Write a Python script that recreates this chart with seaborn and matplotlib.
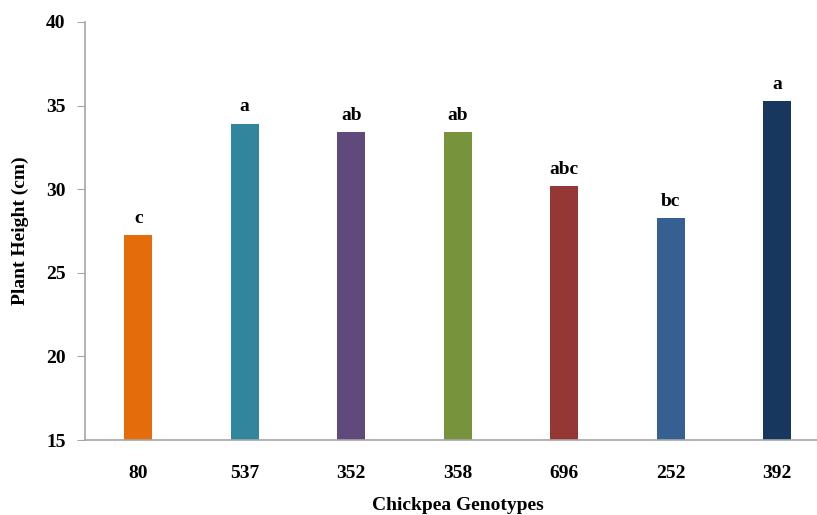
import matplotlib
matplotlib.use("Agg")
import pandas as pd
import matplotlib.pyplot as plt
import seaborn as sns

# data
genotypes = ['80', '537', '352', '358', '696', '252', '392']
height = [27.25, 33.92, 33.42, 33.42, 30.2, 28.27, 35.28]
letters = ['c', 'a', 'ab', 'ab', 'abc', 'bc', 'a']
colors = ['#E46C0A', '#31859C', '#604A7B', '#77933C', '#953735', '#366092', '#17375E']

df = pd.DataFrame({'Genotype': genotypes, 'Height': height})

sns.set_style('white')
plt.rcParams['font.family'] = ['Liberation Serif', 'DejaVu Serif']
plt.rcParams['font.weight'] = 'bold'
plt.rcParams['text.color'] = 'black'
plt.rcParams['axes.labelcolor'] = 'black'
plt.rcParams['xtick.color'] = 'black'
plt.rcParams['ytick.color'] = 'black'

fig = plt.figure(figsize=(8.17, 5.15), dpi=100)
ax = fig.add_axes([0.104, 0.1456, 0.9125, 0.8117])

sns.barplot(data=df, x='Genotype', y='Height', hue='Genotype', palette=colors,
            saturation=1, legend=False, width=0.26, ax=ax, edgecolor='none')

ax.set_ylim(15, 40)
ax.set_yticks(range(15, 41, 5))
for i, (v, t) in enumerate(zip(height, letters)):
    ax.annotate(t, (i, v), xytext=(0, 6), textcoords='offset points',
                ha='center', va='bottom', fontsize=14, fontweight='bold')

ax.set_xlabel('Chickpea Genotypes', fontsize=14, fontweight='bold', labelpad=11)
ax.set_ylabel('Plant Height (cm)', fontsize=14, fontweight='bold', labelpad=12)
ax.tick_params(axis='y', which='major', direction='out', length=6, color='#A6A6A6',
               labelcolor='black', labelsize=14, pad=8, left=True)
ax.tick_params(axis='x', length=0, labelsize=14, pad=18, labelcolor='black')
for lbl in ax.get_xticklabels() + ax.get_yticklabels():
    lbl.set_fontweight('bold')

for s in ['top', 'right']:
    ax.spines[s].set_visible(False)
for s in ['left', 'bottom']:
    ax.spines[s].set_color('#A6A6A6')
    ax.spines[s].set_linewidth(1.2)

fig.savefig('out.png', dpi=100)
